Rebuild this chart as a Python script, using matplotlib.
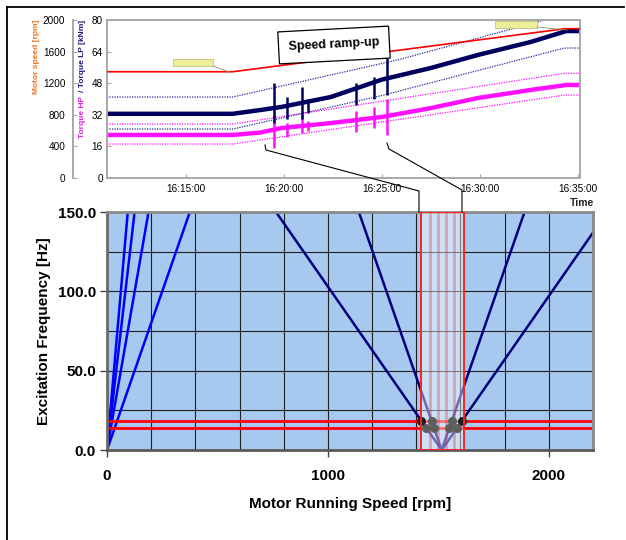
import matplotlib
matplotlib.use('Agg')
import matplotlib.pyplot as plt
from matplotlib.lines import Line2D
from matplotlib.patches import Rectangle
import numpy as np

plt.rcParams['font.family'] = ['Liberation Sans', 'DejaVu Sans']

# ---------------- top chart data (time = minutes after 16:00) ----------------
time_ticks = [15, 20, 25, 30, 35]
time_labels = ['16:15:00', '16:20:00', '16:25:00', '16:30:00', '16:35:00']
speed_ticks = [0, 400, 800, 1200, 1600, 2000]
torque_ticks = [0, 16, 32, 48, 64, 80]

speed_t = [11.0, 17.4, 34.35, 35.1]
speed_rpm = [1345, 1345, 1890, 1890]

torque_t = [11.0, 17.4, 18.8, 19.9, 22.4, 25.0, 27.5, 29.9, 32.6, 34.4, 35.1]
lp_knm = [32.5, 32.5, 34.4, 36.0, 41.0, 49.8, 55.7, 62.3, 68.9, 74.4, 74.4]
hp_knm = [21.8, 21.8, 23.0, 25.3, 27.8, 30.9, 35.4, 40.5, 44.6, 47.1, 47.1]

lp_hi_t = [11.0, 17.4, 25.9, 33.3, 35.1]
lp_hi = [41.0, 41.0, 60.0, 80.0, 85.0]
lp_lo_t = [11.0, 17.4, 24.9, 34.3, 35.1]
lp_lo = [24.8, 24.8, 41.5, 65.8, 65.8]
hp_hi_t = [11.0, 17.4, 34.3, 35.1]
hp_hi = [27.3, 27.3, 53.0, 53.0]
hp_lo_t = [11.0, 17.4, 34.3, 35.1]
hp_lo = [17.2, 17.2, 42.0, 42.0]

spike_t = [19.49, 20.17, 20.94, 21.26, 23.70, 24.58, 25.26]
lp_spike_lo = [28, 30, 30, 33, 37, 40, 42]
lp_spike_hi = [48, 41, 46, 40, 48, 51, 61]
hp_spike_lo = [15, 21, 22.8, 24, 23.3, 25.3, 21.8]
hp_spike_hi = [32, 28, 32, 29, 34, 36, 40]

# ---------------- bottom chart data ----------------
rpm_ticks = [0, 1000, 2000]
hz_ticks = [0, 50, 100, 150]
hz_labels = ['0.0', '50.0', '100.0', '150.0']

order_top_rpm = [94, 125, 188, 375]          # lines from origin, reach 150 Hz here
order_top_hz = [150, 150, 150, 150]
side_vertex_rpm = 1515
side_top_rpm = [765, 1140, 1890, 2200]
side_top_hz = [150, 150, 150, 137]
natural_hz = [18.5, 14.0]
band_rpm = [1423, 1614]
band_stripes = [1464, 1500, 1536, 1573]
dots_rpm = [1422, 1607, 1469, 1561, 1445, 1585, 1480, 1550]
dots_hz = [18.5, 18.5, 18.5, 18.5, 14.0, 14.0, 14.0, 14.0]

W, H = 626, 540
fig = plt.figure(figsize=(W / 100, H / 100), dpi=100)


def fx(px):
    return px / W


def fy(py):
    return 1 - py / H


NAVY = '#00005E'
MAG = '#FF10FF'
GRAY = '#A8A8A8'

# ---------------- top chart ----------------
ax = fig.add_axes([fx(107), fy(178), fx(580) - fx(107), fy(20) - fy(178)])
ax.set_xlim(11.0, 35.1)
ax.set_ylim(0, 80)
ax.plot(hp_hi_t, hp_hi, ls=(0, (1, 1)), color=MAG, lw=0.9)
ax.plot(hp_lo_t, hp_lo, ls=(0, (1, 1)), color=MAG, lw=0.9)
ax.plot(lp_hi_t, lp_hi, ls=(0, (1, 1)), color='#2A2AA0', lw=0.9)
ax.plot(lp_lo_t, lp_lo, ls=(0, (1, 1)), color='#2A2AA0', lw=0.9)
ax.plot(torque_t, hp_knm, color=MAG, lw=3.2, solid_capstyle='butt')
ax.vlines(spike_t, hp_spike_lo, hp_spike_hi, color=MAG, lw=1.8)
ax.plot(torque_t, lp_knm, color=NAVY, lw=3.2, solid_capstyle='butt')
ax.vlines(spike_t, lp_spike_lo, lp_spike_hi, color=NAVY, lw=1.8)
ax.set_xticks(time_ticks)
ax.set_xticklabels(time_labels)
ax.set_yticks(torque_ticks)
ax.tick_params(axis='both', direction='in', length=3, color=GRAY, labelsize=7.2, pad=3)
ax.tick_params(axis='x', pad=4)
for s in ax.spines.values():
    s.set_color(GRAY)
    s.set_linewidth(1.4)

axs = ax.twinx()
axs.set_ylim(0, 2000)
axs.plot(speed_t, speed_rpm, color='#FF0000', lw=1.2)
axs.yaxis.set_ticks_position('left')
axs.yaxis.set_label_position('left')
axs.spines['left'].set_position(('outward', 24.5))
axs.spines['left'].set_color(GRAY)
axs.spines['left'].set_linewidth(1.4)
for k in ['right', 'top', 'bottom']:
    axs.spines[k].set_visible(False)
axs.set_yticks(speed_ticks)
axs.tick_params(axis='y', direction='in', length=3, color=GRAY, labelsize=7.2, pad=5.5)

fig.text(fx(37), fy(20), 'Motor speed [rpm]', rotation=90, ha='center', va='top',
         fontsize=6, fontweight='bold', color='#F07020')
fig.text(fx(83), fy(138), 'Torque HP ', rotation=90, ha='center', va='bottom',
         fontsize=6, fontweight='bold', color='#E020E0')
fig.text(fx(83), fy(20), '/ Torque LP [kNm]', rotation=90, ha='center', va='top',
         fontsize=6, fontweight='bold', color='#1A1A80')
fig.text(fx(582), fy(203), 'Time', ha='center', va='center', fontsize=7.5,
         fontweight='bold', color='#222222')

fig.text(fx(334), fy(45), 'Speed ramp-up', rotation=3, ha='center', va='center',
         fontsize=9, fontweight='bold', color='black',
         bbox=dict(boxstyle='square,pad=0.8', fc='white', ec='black', lw=0.9))

# small yellow callouts
fig.add_artist(Rectangle((fx(173), fy(66)), fx(213) - fx(173), fy(59) - fy(66),
                         facecolor='#EEEE9A', edgecolor='#B8B870', lw=0.5))
fig.add_artist(Line2D([fx(213), fx(229)], [fy(66), fy(72)], color='#909060', lw=0.6))
fig.add_artist(Rectangle((fx(495), fy(28)), fx(537) - fx(495), fy(21) - fy(28),
                         facecolor='#EEEE9A', edgecolor='#B8B870', lw=0.5))
fig.add_artist(Line2D([fx(537), fx(567)], [fy(27), fy(30)], color='#909060', lw=0.6))

# ---------------- bottom chart ----------------
bx = fig.add_axes([fx(107), fy(450), fx(593) - fx(107), fy(212) - fy(450)])
bx.set_facecolor('#A7C9EF')
bx.set_xlim(0, 2200)
bx.set_ylim(0, 150)
bx.set_xticks(rpm_ticks)
bx.set_xticks(np.arange(0, 2201, 200), minor=True)
bx.set_yticks(hz_ticks)
bx.set_yticklabels(hz_labels)
bx.set_yticks(np.arange(0, 151, 25), minor=True)
bx.grid(which='both', color='#1E1E1E', lw=0.8)
bx.set_axisbelow(True)
bx.tick_params(which='minor', length=0)
bx.tick_params(which='major', length=5, width=1, color='#444444', labelsize=11)
bx.tick_params(axis='x', pad=9)
bx.tick_params(axis='y', pad=3)
for lab in bx.get_xticklabels() + bx.get_yticklabels():
    lab.set_fontweight('bold')
for k, s in bx.spines.items():
    s.set_color('#8A8A8A')
    s.set_linewidth(2)
bx.spines['left'].set_color('#6A6A6A')
bx.spines['bottom'].set_color('#5A5A5A')

for r, h in zip(order_top_rpm, order_top_hz):
    bx.plot([0, r], [0, h], color='#0000FF', lw=1.8, zorder=2)
for r, h in zip(side_top_rpm, side_top_hz):
    bx.plot([side_vertex_rpm, r], [0, h], color='#000080', lw=1.8, zorder=2)
for h in natural_hz:
    bx.axhline(h, color='#FF0000', lw=2, zorder=2.5)

bx.add_patch(Rectangle((band_rpm[0], 0), band_rpm[1] - band_rpm[0], 150,
                       facecolor='white', alpha=0.42, edgecolor='none', zorder=3))
for r in band_stripes:
    bx.axvline(r, color='#E03040', alpha=0.35, lw=2, zorder=3.2)
bx.scatter(dots_rpm[:2], dots_hz[:2], s=30, color='#1E1E1E', zorder=4)
bx.scatter(dots_rpm[2:], dots_hz[2:], s=30, color='#5E5E5E', zorder=4)
bx.add_patch(Rectangle((band_rpm[0], 0), band_rpm[1] - band_rpm[0], 150,
                       facecolor='none', edgecolor='#FF2020', lw=1.4, zorder=4.5))

bx.set_xlabel('Motor Running Speed [rpm]', fontsize=11, fontweight='bold', labelpad=10)
bx.set_ylabel('Excitation Frequency [Hz]', fontsize=11, fontweight='bold', labelpad=5)

# connector lines between the charts
fig.add_artist(Line2D([fx(265), fx(266), fx(419), fx(419)],
                      [fy(145), fy(150), fy(191), fy(212)], color='black', lw=0.8))
fig.add_artist(Line2D([fx(387), fx(389), fx(462), fx(462)],
                      [fy(143), fy(149), fy(190), fy(212)], color='black', lw=0.8))

# page frame
fig.add_artist(Line2D([fx(7), fx(624)], [fy(7), fy(7)], color='black', lw=1.3))
fig.add_artist(Line2D([fx(7), fx(7)], [fy(7), fy(540)], color='black', lw=1.3))

fig.savefig('out.png', dpi=100)
